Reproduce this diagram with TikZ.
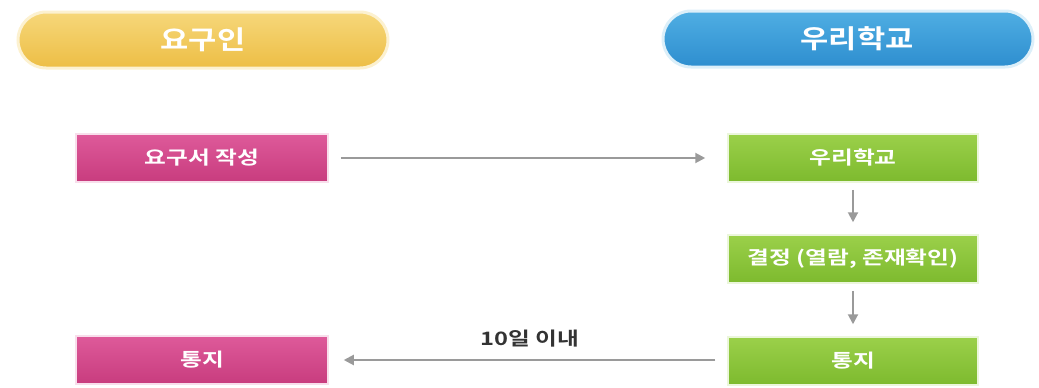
\documentclass[tikz,border=0pt]{standalone}
\usepackage{fontspec}
\newfontfamily\kr{Noto Sans CJK KR}[BoldFont={Noto Sans CJK KR Bold}, FakeStretch=1.28]
\newfontfamily\krp{Noto Sans CJK KR}[BoldFont={Noto Sans CJK KR Bold}, FakeStretch=1.18]
\usetikzlibrary{arrows.meta,shapes.misc}
\definecolor{pinkA}{HTML}{DE5A9A}
\definecolor{pinkB}{HTML}{C83C7E}
\definecolor{greenA}{HTML}{9BD04A}
\definecolor{greenB}{HTML}{7DBA2E}
\definecolor{yelA}{HTML}{F6D77A}
\definecolor{yelB}{HTML}{EDBE45}
\definecolor{bluA}{HTML}{4FAEE3}
\definecolor{bluB}{HTML}{2E8ECF}
\definecolor{arr}{HTML}{9A9A9A}
\tikzset{
  pill/.style={rounded rectangle, minimum width=370pt, minimum height=56pt, inner sep=0pt,
    font=\krp\bfseries\fontsize{26}{30}\selectfont, text=white},
  yellowpill/.style={pill, draw=yelA!35, line width=3pt, top color=yelA, bottom color=yelB},
  bluepill/.style={pill, draw=bluA!20, line width=3pt, top color=bluA, bottom color=bluB},
  box/.style={rectangle, minimum width=252pt, minimum height=48pt, inner sep=0pt,
    font=\kr\bfseries\fontsize{18.5}{22}\selectfont, text=white},
  pinkbox/.style={box, top color=pinkA, bottom color=pinkB, draw=pinkA!20, line width=1.5pt},
  greenbox/.style={box, minimum width=250pt, top color=greenA, bottom color=greenB, draw=greenA!20, line width=1.5pt},
  flow/.style={draw=arr, line width=2pt, -{Triangle[length=10pt,width=10pt]}},
  lbl/.style={font=\kr\bfseries\fontsize{18.5}{22}\selectfont, text=black!80}
}
\begin{document}
\begin{tikzpicture}[x=1pt,y=-1pt]
\useasboundingbox (0,0) rectangle (1039,388);
\node[yellowpill] (req) at (203,40) {요구인};
\node[bluepill] (sch) at (848,39) {\hspace{18pt}우리학교};
\node[pinkbox] (write) at (202,158) {요구서 작성};
\node[pinkbox] (notiL) at (202,360) {통지};
\node[greenbox] (g1) at (853,158) {우리학교};
\node[greenbox] (g2) at (853,259) {결정 (열람, 존재확인)};
\node[greenbox] (g3) at (853,361) {통지};
\draw[flow] ([xshift=12pt]write.east) -- ([xshift=-22pt]g1.west);
\draw[flow] ([yshift=-7pt]g1.south) -- ([yshift=12pt]g2.north);
\draw[flow] ([yshift=-7pt]g2.south) -- ([yshift=12pt]g3.north);
\draw[flow] ([xshift=-12pt]g3.west |- notiL.east) -- ([xshift=15pt]notiL.east);
\node[lbl] (ten) at (530,339) {10일 이내};
\end{tikzpicture}
\end{document}
